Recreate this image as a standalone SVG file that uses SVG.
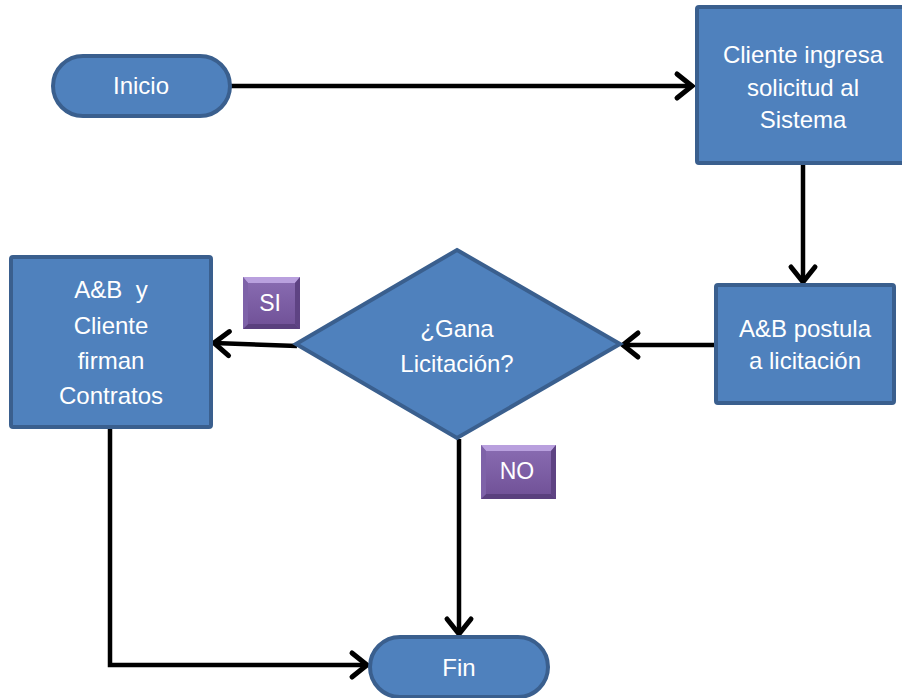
<svg xmlns="http://www.w3.org/2000/svg" width="902" height="698" viewBox="0 0 902 698">
<defs>
<marker id="arr" markerUnits="userSpaceOnUse" markerWidth="26" markerHeight="30" refX="18" refY="13" orient="auto" overflow="visible">
<path d="M3,1 L18,13 L3,25" fill="none" stroke="#000" stroke-width="5" stroke-linecap="round" stroke-linejoin="miter"/>
</marker>
<linearGradient id="pg" x1="0" y1="0" x2="0" y2="1">
<stop offset="0" stop-color="#8A6DB3"/>
<stop offset="1" stop-color="#6F5096"/>
</linearGradient>
</defs>
<style>
.shape{fill:#4F81BD;stroke:#3A5F8E;stroke-width:4}
.t{font-family:"Liberation Sans","Open Sans",Arial,sans-serif;font-size:24px;fill:#fff;text-anchor:middle}
.lab{font-family:"Liberation Sans","Open Sans",Arial,sans-serif;font-size:23px;fill:#fff;text-anchor:middle}
.c{fill:none;stroke:#000;stroke-width:4.5}
</style>
<rect width="902" height="698" fill="#fff"/>
<g id="connectors">
<line class="c" x1="231" y1="86" x2="692" y2="86" marker-end="url(#arr)"/>
<line class="c" x1="803" y1="164" x2="803" y2="282" marker-end="url(#arr)"/>
<line class="c" x1="714" y1="345" x2="623" y2="345" marker-end="url(#arr)"/>
<line class="c" x1="297" y1="346" x2="214" y2="343" marker-end="url(#arr)"/>
<line class="c" x1="459" y1="439" x2="459" y2="634" marker-end="url(#arr)"/>
<polyline class="c" points="110,429 110,665 367,665" marker-end="url(#arr)"/>
</g>
<g id="inicio">
<rect class="shape" x="53" y="56" width="177" height="60" rx="30" ry="30"/>
<text class="t" x="141" y="94">Inicio</text>
</g>
<g id="cliente-ingresa">
<rect class="shape" x="697" y="7" width="214" height="156" rx="2"/>
<text class="t" x="803" y="63">Cliente ingresa</text>
<text class="t" x="803" y="96">solicitud al</text>
<text class="t" x="803" y="128">Sistema</text>
</g>
<g id="postula">
<rect class="shape" x="716" y="285" width="178" height="118" rx="2"/>
<text class="t" x="805" y="337">A&amp;B postula</text>
<text class="t" x="805" y="369">a licitación</text>
</g>
<g id="decision">
<polygon class="shape" points="457,250 620,344 457,438 296,344"/>
<text class="t" x="457" y="337">¿Gana</text>
<text class="t" x="457" y="372">Licitación?</text>
</g>
<g id="contratos">
<rect class="shape" x="11" y="257" width="200" height="170" rx="2"/>
<text class="t" x="111" y="298" xml:space="preserve">A&amp;B  y</text>
<text class="t" x="111" y="334">Cliente</text>
<text class="t" x="111" y="369">firman</text>
<text class="t" x="111" y="404">Contratos</text>
</g>
<g id="si">
<rect x="243" y="277" width="57" height="52" fill="url(#pg)"/>
<polygon points="243,277 300,277 295,283 248,283" fill="#B9A0DE"/>
<polygon points="300,277 300,329 295,324 295,283" fill="#5E4383"/>
<polygon points="243,329 300,329 295,324 248,324" fill="#5A407E"/>
<polygon points="243,277 248,283 248,324 243,329" fill="#7E62A8"/>
<text class="lab" x="270" y="311">SI</text>
</g>
<g id="no">
<rect x="481" y="445" width="75" height="54" fill="url(#pg)"/>
<polygon points="481,445 556,445 551,451 486,451" fill="#B9A0DE"/>
<polygon points="556,445 556,499 551,494 551,451" fill="#5E4383"/>
<polygon points="481,499 556,499 551,494 486,494" fill="#5A407E"/>
<polygon points="481,445 486,451 486,494 481,499" fill="#7E62A8"/>
<text class="lab" x="517" y="479">NO</text>
</g>
<g id="fin">
<rect class="shape" x="370" y="637" width="178" height="60" rx="30" ry="30"/>
<text class="t" x="459" y="676">Fin</text>
</g>
</svg>
